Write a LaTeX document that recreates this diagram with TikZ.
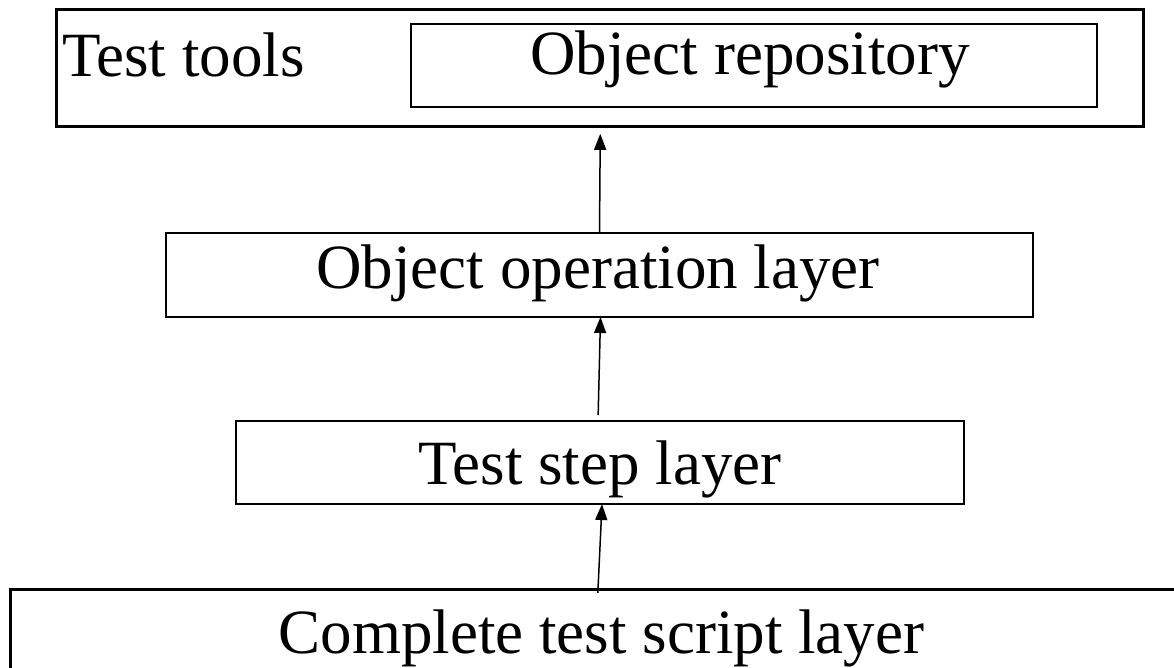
\documentclass[tikz,border=0pt]{standalone}
\usepackage{fontspec}
\setmainfont{Liberation Serif}
\usetikzlibrary{arrows.meta}
\begin{document}
\begin{tikzpicture}[x=1pt,y=-1pt,
  box/.style={draw,rectangle,inner sep=0pt,outer sep=0pt},
  lbl/.style={inner sep=0pt,font=\fontsize{63}{70}\selectfont,anchor=base},
  arr/.style={-{Triangle[length=16pt,width=12pt]},line width=1.5pt}]
\useasboundingbox (0,0) rectangle (1174,668);
\clip (0,0) rectangle (1174,668);
\node[box,line width=3pt,minimum width=1087pt,minimum height=117pt] (tools) at (600.3,68.3) {};
\node[box,line width=2pt,minimum width=686pt,minimum height=83pt] (repo) at (753.8,65.3) {};
\node[box,line width=2.8pt,minimum width=867pt,minimum height=84pt] (ops) at (599.5,275) {};
\node[box,line width=2.5pt,minimum width=728pt,minimum height=83pt] (step) at (600,462.5) {};
\node[box,line width=3pt,minimum width=1190pt,minimum height=131pt] (script) at (605.6,654.5) {};
\node[lbl,anchor=base west] (ttools) at (62,77) {Test tools};
\node[lbl] (trepo) at (750,75) {Object repository};
\node[lbl] (tops) at (598,288) {Object operation layer};
\node[lbl] (tstep) at (600,484) {Test step layer};
\node[lbl] (tscript) at (601.5,653) {Complete test script layer};
\coordinate (s3) at ([xshift=-2pt]step.south);
\draw[arr,shorten >=7pt] (ops.north) -- (tools.south);
\draw[arr,shorten <=6pt] ([xshift=-2pt]step.north) -- ([xshift=1pt]ops.south);
\draw[arr,shorten <=-4pt] (s3 |- script.north) -- ([xshift=2pt]step.south);
\end{tikzpicture}
\end{document}
